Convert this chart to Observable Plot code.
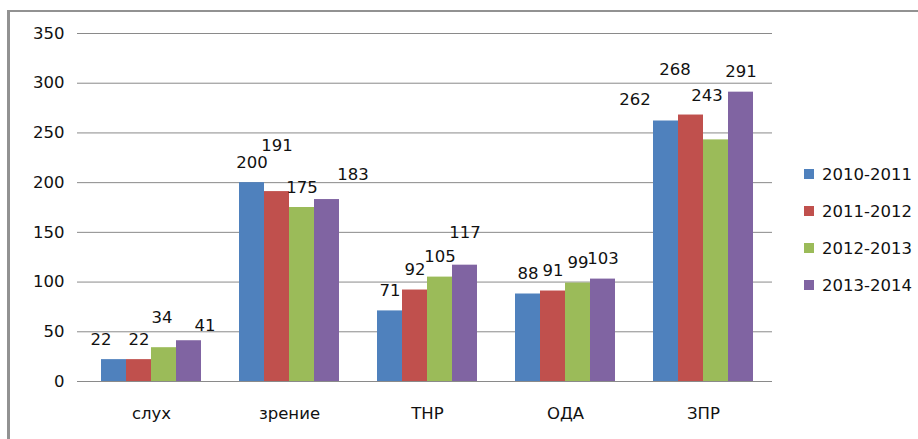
<!DOCTYPE html>
<html>
<head>
<meta charset="utf-8">
<script src="https://cdn.jsdelivr.net/npm/d3@7"></script>
<script src="https://cdn.jsdelivr.net/npm/@observablehq/plot@0.6"></script>
<style>
  body { margin: 0; background: #fff; }
  #wrap { position: relative; width: 918px; height: 439px; overflow: hidden; font-family: "DejaVu Sans", Verdana, sans-serif; }
  #border { position: absolute; left: 7px; top: 10px; width: 1000px; height: 500px; border-left: 3px solid #929292; border-top: 2px solid #929292; box-sizing: border-box; }
  #chart { position: absolute; left: 0; top: 0; }
  #legend { position: absolute; left: 804px; top: 0; font-size: 16.5px; color: #111; }
  .item { position: absolute; left: 0; white-space: nowrap; display: flex; align-items: center; height: 20px; }
  .sw { width: 10px; height: 10px; margin-right: 8px; }
</style>
</head>
<body>
<div id="wrap">
  <div id="border"></div>
  <div id="chart"></div>
  <div id="legend"></div>
</div>
<script>
const categories = ["слух", "зрение", "ТНР", "ОДА", "ЗПР"];
const seasons = ["2010-2011", "2011-2012", "2012-2013", "2013-2014"];
const values2010 = [22, 200, 71, 88, 262];
const values2011 = [22, 191, 92, 91, 268];
const values2012 = [34, 175, 105, 99, 243];
const values2013 = [41, 183, 117, 103, 291];
const yTicks = [0, 50, 100, 150, 200, 250, 300, 350];
const colors = ["#4F81BD", "#C0504D", "#9BBB59", "#8064A2"];

const series = [values2010, values2011, values2012, values2013];
const rows = categories.flatMap((c, i) => seasons.map((s, j) => ({category: c, season: s, value: series[j][i]})));

// layout: hand-placed label nudges (as in the original chart), in pixels
const labelNudges = [
  {category: "слух", season: "2010-2011", dx: -13, dy: -20},
  {category: "слух", season: "2012-2013", dx: -2, dy: -30},
  {category: "слух", season: "2013-2014", dx: 16, dy: -15},
  {category: "зрение", season: "2011-2012", dx: 0, dy: -46},
  {category: "зрение", season: "2013-2014", dx: 26, dy: -25},
  {category: "ТНР", season: "2013-2014", dx: 0, dy: -32},
  {category: "ЗПР", season: "2010-2011", dx: -31, dy: -21},
  {category: "ЗПР", season: "2011-2012", dx: -16, dy: -45},
  {category: "ЗПР", season: "2012-2013", dx: -9, dy: -44}
];
const nudgeOf = d => labelNudges.find(n => n.category === d.category && n.season === d.season) || {dx: 0, dy: -20};
const nudgeGroups = d3.groups(rows, d => { const n = nudgeOf(d); return n.dx + "," + n.dy; });

const W = 918, H = 439, mL = 81, mR = 146, mT = 33, mB = 58;
const step = (W - mL - mR) / categories.length;
const gray = "#8a8a8a";

const labelMarks = nudgeGroups.map(([key, group]) => {
  const [dx, dy] = key.split(",").map(Number);
  return Plot.text(group, {fx: "category", x: "season", y: "value", text: d => String(d.value), dx, dy, fontSize: 16.5, fill: "#111"});
});

const chart = Plot.plot({
  width: W, height: H,
  marginLeft: mL, marginRight: mR, marginTop: mT, marginBottom: mB,
  style: {fontFamily: "DejaVu Sans, Verdana, sans-serif", background: "transparent", color: "#111"},
  fx: {domain: categories, padding: 0, label: null},
  x: {domain: seasons, paddingInner: 0, paddingOuter: 0.76, axis: null},
  y: {domain: [0, 350], label: null},
  color: {domain: seasons, range: colors},
  marks: [
    Plot.gridY(yTicks, {stroke: gray, strokeOpacity: 1}),
    Plot.ruleY([0], {stroke: gray}),
    Plot.ruleX([categories[0]], {fx: d => d, y1: -5, y2: 350, dx: -step / 2, stroke: gray}),
    Plot.ruleX(categories.slice(1), {fx: d => d, y1: -5, y2: 0, dx: -step / 2, stroke: gray}),
    Plot.ruleX([categories[categories.length - 1]], {fx: d => d, y1: -5, y2: 0, dx: step / 2, stroke: gray}),
    Plot.barY(rows, {fx: "category", x: "season", y: "value", fill: "season", inset: 0}),
    ...labelMarks,
    Plot.axisY(yTicks, {tickSize: 5, tickPadding: 13, fontSize: 16.5, stroke: gray, label: null, fill: "#111"}),
    Plot.axisFx({anchor: "bottom", tickSize: 0, tickPadding: 26, fontSize: 16.5, label: null, fill: "#111"})
  ]
});
document.getElementById("chart").appendChild(chart);

const legend = document.getElementById("legend");
const legendCenters = [174, 211, 248, 285];
seasons.forEach((s, j) => {
  const it = document.createElement("div");
  it.className = "item";
  it.style.top = (legendCenters[j] - 10) + "px";
  const sw = document.createElement("div");
  sw.className = "sw";
  sw.style.background = colors[j];
  const t = document.createElement("span");
  t.textContent = s;
  it.appendChild(sw); it.appendChild(t);
  legend.appendChild(it);
});
</script>
</body>
</html>
